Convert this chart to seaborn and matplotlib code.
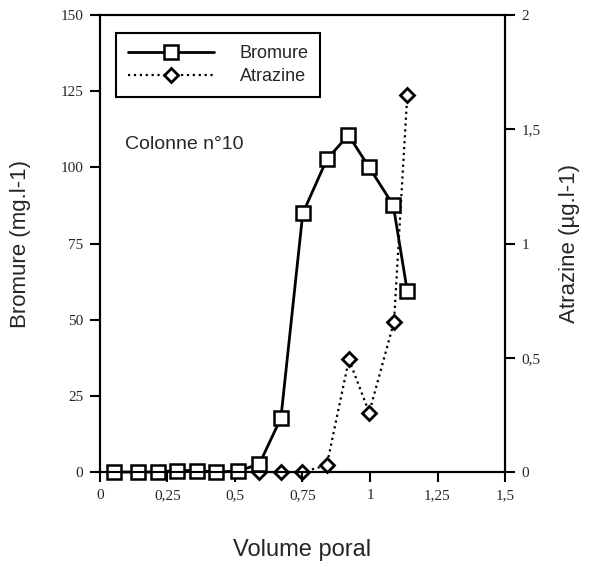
import numpy as np
import pandas as pd
import matplotlib
matplotlib.use('Agg')
import matplotlib.pyplot as plt
import seaborn as sns
from matplotlib.lines import Line2D

# valeurs (colonne n°10)
vp_bromure = [0.053, 0.14, 0.214, 0.286, 0.358, 0.43, 0.51, 0.59, 0.67,
              0.751, 0.84, 0.92, 0.997, 1.086, 1.138]
bromure = [0, 0, 0, 0.5, 0.5, 0, 0.3, 2.6, 17.7,
           84.9, 102.6, 110.6, 100, 87.6, 59.4]

vp_atrazine = [0.59, 0.67, 0.75, 0.84, 0.922, 0.997, 1.089, 1.138]
atrazine = [0, 0, 0, 0.03, 0.493, 0.26, 0.658, 1.65]

xticks = [0, 0.25, 0.5, 0.75, 1, 1.25, 1.5]
xticklabels = ['0', '0,25', '0,5', '0,75', '1', '1,25', '1,5']
y1ticks = [0, 25, 50, 75, 100, 125, 150]
y2ticks = [0, 0.5, 1, 1.5, 2]
y2ticklabels = ['0', '0,5', '1', '1,5', '2']

df_br = pd.DataFrame({'vp': vp_bromure, 'val': bromure})
df_at = pd.DataFrame({'vp': vp_atrazine, 'val': atrazine})

sns.set_style('ticks')
plt.rcParams['font.family'] = ['Liberation Sans', 'DejaVu Sans']

fig = plt.figure(figsize=(5.97, 5.67), dpi=100)
ax1 = fig.add_axes([0.1675, 0.1675, 0.6784, 0.806])
ax2 = ax1.twinx()
ax1.set_zorder(2)
ax1.patch.set_visible(False)

# atrazine (axe de droite)
sns.lineplot(data=df_at, x='vp', y='val', ax=ax2, color='black', linestyle=':',
             linewidth=1.6, marker='D', markersize=7, markerfacecolor='white',
             markeredgecolor='black', markeredgewidth=2, clip_on=False)
# bromure (axe de gauche)
sns.lineplot(data=df_br, x='vp', y='val', ax=ax1, color='black', linewidth=2,
             marker='s', markersize=9.5, markerfacecolor='white',
             markeredgecolor='black', markeredgewidth=1.8, clip_on=False)

ax1.set_xlim(0, 1.5)
ax1.set_ylim(0, 150)
ax2.set_ylim(0, 2)

tickfont = {'family': 'Liberation Serif', 'size': 11}
ax1.set_xticks(xticks)
ax1.set_xticklabels(xticklabels, fontdict=tickfont)
ax1.set_yticks(y1ticks)
ax1.set_yticklabels([str(v) for v in y1ticks], fontdict=tickfont)
ax2.set_yticks(y2ticks)
ax2.set_yticklabels(y2ticklabels, fontdict=tickfont)

for ax in (ax1, ax2):
    ax.tick_params(direction='out', length=7, width=1.5, pad=5, color='black')
    for s in ax.spines.values():
        s.set_linewidth(1.5)
        s.set_color('black')
        s.set_visible(True)

ax1.set_xlabel('Volume poral', fontsize=17, labelpad=27)
ax1.set_ylabel('Bromure (mg.l-1)', fontsize=16, labelpad=21)
ax2.set_ylabel('Atrazine (µg.l-1)', fontsize=16, labelpad=13)

handles = [
    Line2D([], [], color='black', linewidth=2, marker='s', markersize=9.5,
           markerfacecolor='white', markeredgewidth=1.8),
    Line2D([], [], color='black', linewidth=1.6, linestyle=':', marker='D',
           markersize=7, markerfacecolor='white', markeredgewidth=2),
]
leg = ax1.legend(handles, ['Bromure', 'Atrazine'], loc='upper left',
                 bbox_to_anchor=(0.0395, 0.96), borderaxespad=0,
                 fontsize=13, handlelength=4.8, handletextpad=1.4,
                 borderpad=0.65, labelspacing=0.35,
                 fancybox=False, framealpha=1, edgecolor='black')
leg.get_frame().set_linewidth(1.5)

ax1.text(0.062, 0.716, 'Colonne n°10', transform=ax1.transAxes, fontsize=14,
         va='center')

fig.savefig('out.png', dpi=100)
